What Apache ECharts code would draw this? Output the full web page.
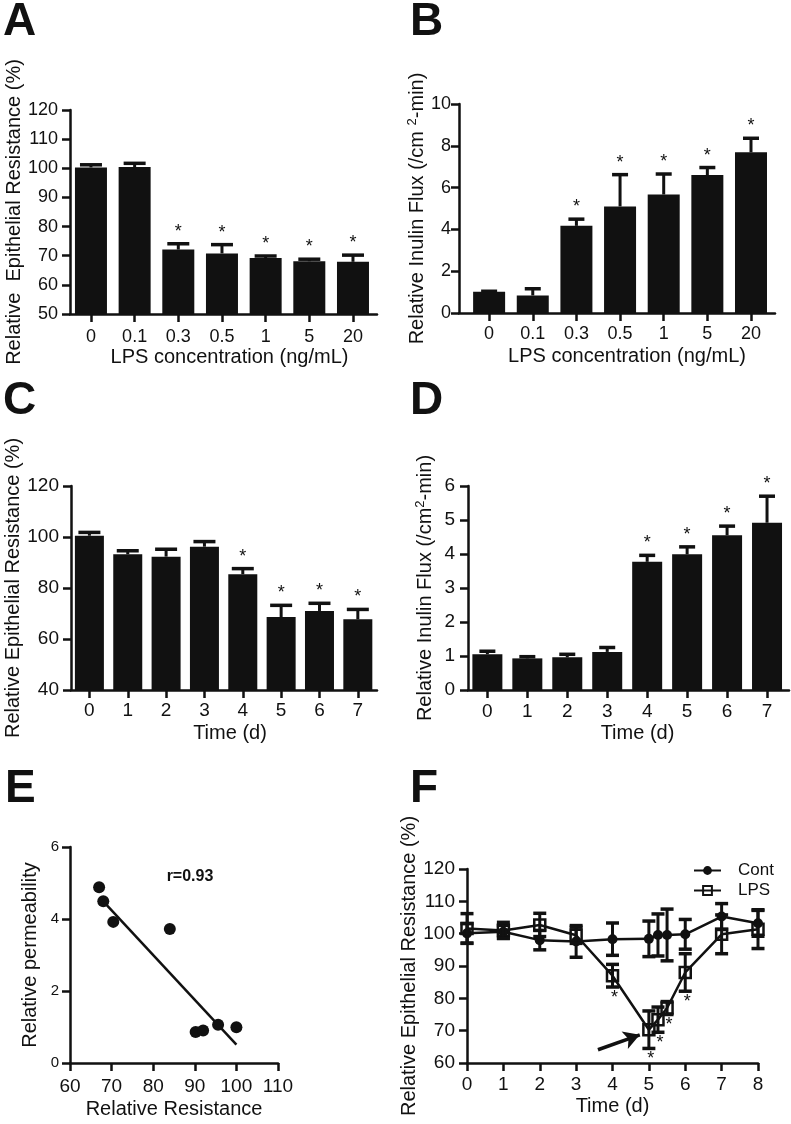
<!DOCTYPE html>
<html>
<head>
<meta charset="utf-8">
<script src="https://cdn.jsdelivr.net/npm/echarts@6/dist/echarts.min.js"></script>
<style>
html,body{margin:0;padding:0;background:#fff;}
#chart{width:791px;height:1124px;}
</style>
</head>
<body>
<div id="chart"></div>
<script>
// ---------------- DATA ----------------
const concLabels = ['0', '0.1', '0.3', '0.5', '1', '5', '20'];
const dayLabels = ['0', '1', '2', '3', '4', '5', '6', '7'];

// Panel A: relative epithelial resistance vs LPS concentration
const resA = [100.3, 100.4, 72.1, 70.8, 69.2, 68.1, 67.9];
const resAErr = [0.9, 1.3, 2.0, 3.0, 0.7, 0.7, 2.3];
const sigA = [0, 0, 1, 1, 1, 1, 1];

// Panel B: relative inulin flux vs LPS concentration
const fluxB = [1.02, 0.84, 4.17, 5.10, 5.67, 6.60, 7.69];
const fluxBErr = [0.02, 0.32, 0.32, 1.52, 0.98, 0.36, 0.67];
const sigB = [0, 0, 1, 1, 1, 1, 1];

// Panel C: relative epithelial resistance vs time
const resC = [100.5, 93.2, 92.3, 96.2, 85.4, 68.6, 71.0, 67.7];
const resCErr = [1.3, 1.4, 2.9, 2.0, 2.2, 4.6, 3.0, 3.9];
const sigC = [0, 0, 0, 0, 1, 1, 1, 1];

// Panel D: relative inulin flux vs time
const fluxD = [1.05, 0.93, 0.96, 1.12, 3.77, 3.99, 4.55, 4.92];
const fluxDErr = [0.09, 0.05, 0.09, 0.13, 0.19, 0.22, 0.27, 0.78];
const sigD = [0, 0, 0, 0, 1, 1, 1, 1];

// Panel E: permeability vs resistance
const resE = [67.0, 68.0, 70.4, 84.0, 90.2, 92.0, 95.6, 100.0];
const permE = [4.88, 4.49, 3.92, 3.72, 0.86, 0.90, 1.06, 0.99];
const fitX = [67.5, 100];
const fitY = [4.55, 0.51];
const corrText = 'r=0.93';

// Panel F: resistance time course
const timeF = [0, 1, 2, 3, 4, 5, 5.25, 5.5, 6, 7, 8];
const contF = [100.1, 100.6, 98.0, 97.6, 98.3, 98.4, 99.6, 99.6, 99.8, 105.3, 103.2];
const contFErr = [3.0, 2.0, 3.0, 4.9, 5.0, 5.5, 6.5, 8.0, 4.6, 4.0, 4.0];
const lpsF = [101.6, 101.0, 102.7, 99.5, 87.0, 70.3, 73.4, 77.0, 88.0, 99.8, 101.4];
const lpsFErr = [4.6, 2.5, 3.6, 2.5, 3.5, 5.8, 3.9, 2.0, 5.8, 6.0, 6.0];
const sigF = [0, 0, 0, 0, 1, 1, 1, 1, 1, 0, 0];
const arrowF = [[3.6, 64.1], [4.75, 68.7]];

const yTitleRes = 'Relative Epithelial Resistance (%)';
const yTitleResA = 'Relative  Epithelial Resistance (%)';
const yTitleFlux = 'Relative Inulin Flux (/cm{sup|2}-min)';
const yTitleFluxB = 'Relative Inulin Flux (/cm {sup|2}-min)';
const xTitleConc = 'LPS concentration (ng/mL)';
const xTitleTime = 'Time (d)';

// ---------------- STYLE HELPERS ----------------
const FONT = "'Liberation Sans', Arial, Helvetica, sans-serif";
const INK = '#111';
const AXW = 2.5;

function idxs(n) { return Array.from({length: n}, (_, i) => i); }

function axisCommon() {
  return {
    axisLine: {show: true, onZero: false, lineStyle: {color: INK, width: AXW}},
    axisTick: {show: true, length: 8, lineStyle: {color: INK, width: AXW}},
    splitLine: {show: false},
    nameLocation: 'middle',
    nameTextStyle: {fontFamily: FONT, fontSize: 20, color: INK},
  };
}

function catXAxis(gi, labels, min, max, name, fs, margin, gap, shift) {
  const ax = axisCommon();
  const vals = idxs(labels.length);
  return Object.assign(ax, {
    type: 'value', gridIndex: gi, min: min, max: max,
    axisTick: Object.assign(ax.axisTick, {customValues: vals}),
    axisLabel: {customValues: vals, formatter: v => labels[Math.round(v)] ?? '',
      fontFamily: FONT, fontSize: fs, color: INK, margin: margin},
    name: name, nameGap: gap,
    nameTextStyle: Object.assign(ax.nameTextStyle, {padding: [0, 0, 0, shift]})
  });
}

function valAxis(gi, min, max, interval, name, fs, margin, gap, rich) {
  const ax = axisCommon();
  const o = Object.assign(ax, {
    type: 'value', gridIndex: gi, min: min, max: max, interval: interval,
    axisLabel: {fontFamily: FONT, fontSize: fs, color: INK, margin: margin, showMinLabel: true, showMaxLabel: true},
    name: name, nameGap: gap
  });
  if (rich) {
    o.nameTextStyle.rich = {sup: {fontFamily: FONT, fontSize: 13, color: INK, verticalAlign: 'top', padding: [0, 0, 9, 0]}};
  }
  return o;
}

function barSeries(gi, vals, width) {
  return {
    type: 'bar', xAxisIndex: gi, yAxisIndex: gi,
    data: vals.map((v, i) => [i, v]), barWidth: width,
    itemStyle: {color: INK, opacity: 1}, z: 2, silent: true
  };
}

function barErrSeries(gi, vals, errs, sigs, capHalf) {
  return {
    type: 'custom', xAxisIndex: gi, yAxisIndex: gi, z: 3, silent: true,
    data: vals.map((v, i) => [i, v, errs[i], sigs[i]]),
    renderItem: function (params, api) {
      const x = api.value(0), y = api.value(1), e = api.value(2), s = api.value(3);
      const p0 = api.coord([x, y]);
      const p1 = api.coord([x, y + e]);
      const ch = [
        {type: 'line', shape: {x1: p0[0], y1: p0[1], x2: p1[0], y2: p1[1]}, style: {stroke: INK, lineWidth: 3}},
        {type: 'line', shape: {x1: p1[0] - capHalf, y1: p1[1], x2: p1[0] + capHalf, y2: p1[1]}, style: {stroke: INK, lineWidth: 3.5}}
      ];
      if (s) {
        ch.push({type: 'text', x: p1[0], y: p1[1] - 3,
          style: {text: '*', fill: INK, font: '18px ' + FONT, align: 'center', verticalAlign: 'bottom'}});
      }
      return {type: 'group', children: ch};
    }
  };
}

function symErrSeries(gi, xs, vals, errs, capHalf) {
  return {
    type: 'custom', xAxisIndex: gi, yAxisIndex: gi, z: 4, silent: true,
    data: xs.map((x, i) => [x, vals[i], errs[i]]),
    renderItem: function (params, api) {
      const x = api.value(0), y = api.value(1), e = api.value(2);
      const lo = api.coord([x, y - e]);
      const hi = api.coord([x, y + e]);
      return {type: 'group', children: [
        {type: 'line', shape: {x1: lo[0], y1: lo[1], x2: hi[0], y2: hi[1]}, style: {stroke: INK, lineWidth: 3}},
        {type: 'line', shape: {x1: hi[0] - capHalf, y1: hi[1], x2: hi[0] + capHalf, y2: hi[1]}, style: {stroke: INK, lineWidth: 3.5}},
        {type: 'line', shape: {x1: lo[0] - capHalf, y1: lo[1], x2: lo[0] + capHalf, y2: lo[1]}, style: {stroke: INK, lineWidth: 3.5}}
      ]};
    }
  };
}

function starBelowSeries(gi, xs, vals, errs, sigs) {
  return {
    type: 'custom', xAxisIndex: gi, yAxisIndex: gi, z: 5, silent: true,
    data: xs.map((x, i) => [x, vals[i], errs[i], sigs[i]]).filter(d => d[3]),
    renderItem: function (params, api) {
      const p = api.coord([api.value(0), api.value(1) - api.value(2)]);
      return {type: 'text', x: p[0] + 2, y: p[1] + 2,
        style: {text: '*', fill: INK, font: '18px ' + FONT, align: 'center', verticalAlign: 'top'}};
    }
  };
}

function letter(t, x, y) {
  return {type: 'text', x: x, y: y, silent: true,
    style: {text: t, fill: INK, font: 'bold 46px ' + FONT, align: 'left', verticalAlign: 'middle'}};
}

// ---------------- OPTION ----------------
const grids = [
  {left: 70, top: 110, width: 307, height: 204},   // A
  {left: 459, top: 104, width: 316, height: 209},  // B
  {left: 71, top: 486, width: 306, height: 204},   // C
  {left: 468, top: 486, width: 321, height: 204},  // D
  {left: 70, top: 847, width: 208, height: 216},   // E
  {left: 467, top: 869, width: 291, height: 194}   // F
].map(g => Object.assign({outerBoundsMode: 'none', containLabel: false, show: false}, g));

const xAxes = [
  catXAxis(0, concLabels, -0.48, 6.55, xTitleConc, 18, 14, 33, 12),
  catXAxis(1, concLabels, -0.69, 6.55, xTitleConc, 18, 12, 33, 20),
  catXAxis(2, dayLabels, -0.48, 7.5, xTitleTime, 19, 11, 33, 12),
  catXAxis(3, dayLabels, -0.485, 7.55, xTitleTime, 19, 12, 33, 18),
  valAxis(4, 60, 110, 10, 'Relative Resistance', 19, 14, 36),
  valAxis(5, 0, 8, 1, xTitleTime, 19, 12, 33)
];

const yAxes = [
  valAxis(0, 50, 120, 10, yTitleResA, 18, 12, 45),
  valAxis(1, 0, 10, 2, yTitleFluxB, 18, 8, 22, true),
  valAxis(2, 40, 120, 20, yTitleRes, 19, 12, 48),
  valAxis(3, 0, 6, 1, yTitleFlux, 19, 13, 32, true),
  valAxis(4, 0, 6, 2, 'Relative permeability', 15, 11, 30),
  valAxis(5, 60, 120, 10, yTitleRes, 19, 12, 46)
];

const series = [
  barSeries(0, resA, 32), barErrSeries(0, resA, resAErr, sigA, 11),
  barSeries(1, fluxB, 32), barErrSeries(1, fluxB, fluxBErr, sigB, 8),
  barSeries(2, resC, 29), barErrSeries(2, resC, resCErr, sigC, 11),
  barSeries(3, fluxD, 30), barErrSeries(3, fluxD, fluxDErr, sigD, 8),
  {
    type: 'scatter', xAxisIndex: 4, yAxisIndex: 4, silent: true, z: 3,
    data: resE.map((v, i) => [v, permE[i]]), symbolSize: 12,
    itemStyle: {color: INK, opacity: 1}
  },
  {
    type: 'line', xAxisIndex: 4, yAxisIndex: 4, silent: true, z: 2,
    data: fitX.map((v, i) => [v, fitY[i]]), showSymbol: false, symbol: 'none',
    lineStyle: {color: INK, width: 2.5}
  },
  symErrSeries(5, timeF, contF, contFErr, 6.5),
  symErrSeries(5, timeF, lpsF, lpsFErr, 6.5),
  {
    name: 'Cont', type: 'line', xAxisIndex: 5, yAxisIndex: 5, silent: true, z: 3,
    data: timeF.map((t, i) => [t, contF[i]]), symbol: 'circle', symbolSize: 10,
    itemStyle: {color: INK, borderColor: INK, borderWidth: 0, opacity: 1},
    lineStyle: {color: INK, width: 2.5}
  },
  {
    name: 'LPS', type: 'line', xAxisIndex: 5, yAxisIndex: 5, silent: true, z: 3,
    data: timeF.map((t, i) => [t, lpsF[i]]), symbol: 'rect', symbolSize: 11,
    itemStyle: {color: 'rgba(255,255,255,0)', borderColor: INK, borderWidth: 2.5},
    lineStyle: {color: INK, width: 2.5},
    markLine: {
      silent: true, symbol: ['none', 'arrow'], symbolSize: [14, 16],
      label: {show: false},
      lineStyle: {color: INK, width: 3.5, type: 'solid'},
      data: [[{coord: arrowF[0]}, {coord: arrowF[1]}]]
    }
  },
  starBelowSeries(5, timeF, lpsF, lpsFErr, sigF)
];

const option = {
  backgroundColor: '#fff',
  animation: false,
  textStyle: {fontFamily: FONT, color: INK},
  grid: grids,
  xAxis: xAxes,
  yAxis: yAxes,
  legend: {
    data: ['Cont', 'LPS'], orient: 'vertical', left: 688, top: 857,
    itemWidth: 27, itemHeight: 11, itemGap: 3, selectedMode: false,
    textStyle: {fontFamily: FONT, fontSize: 17, color: INK, padding: [0, 0, 0, 12]}
  },
  series: series,
  graphic: [
    letter('A', 3, 22), letter('B', 410, 22),
    letter('C', 3, 401), letter('D', 410, 401),
    letter('E', 5, 789), letter('F', 410, 789),
    {type: 'text', x: 190, y: 877, silent: true,
      style: {text: corrText, fill: INK, font: 'bold 16px ' + FONT, align: 'center', verticalAlign: 'middle'}}
  ]
};

const chart = echarts.init(document.getElementById('chart'), null, {renderer: 'canvas'});
chart.setOption(option);
</script>
</body>
</html>
